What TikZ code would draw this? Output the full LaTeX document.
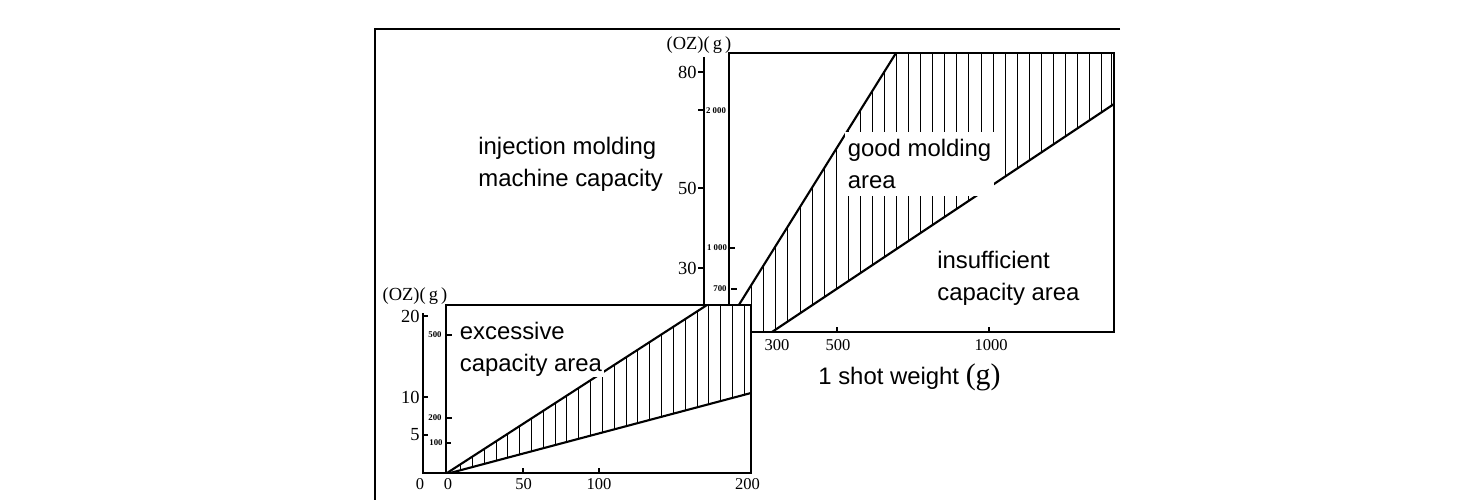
\documentclass[tikz,border=0pt]{standalone}
\usepackage{fontspec}
\setmainfont{Liberation Serif}
\setsansfont{Liberation Sans}
\usetikzlibrary{positioning}
\tikzset{
  % Line styles
  frameline/.style={line width=1pt},
  boxline/.style={line width=1.1pt},
  limitline/.style={line width=1.2pt},
  hatchline/.style={line width=0.55pt},
  tickline/.style={line width=0.6pt},
  % Text styles
  arealabel/.style={font=\sffamily\fontsize{13.6}{18.2}\selectfont, align=left, inner sep=0pt, anchor=west},
  unitlabel/.style={font=\fontsize{10.5}{12}\selectfont, inner sep=0pt},
  ozlabel/.style={font=\fontsize{10.5}{12}\selectfont, inner sep=0pt, anchor=east},
  numlabel/.style={font=\fontsize{9.4}{11}\selectfont, inner sep=0pt},
  glabel/.style={font=\bfseries\fontsize{5}{6}\selectfont, inner sep=0pt}
}

\begin{document}
\begin{tikzpicture}[x=0.02cm, y=-0.02cm]
  \useasboundingbox (0,0) rectangle (1473,500);

  % Frame
  \coordinate (frameTL) at (375,29);
  \draw[frameline] (1120,29) -- (frameTL) -- (375,500);

  % Large chart: hatching
  \begin{scope}
    \clip (722,332) -- (896,53) -- (1114,53) -- (1114,104) -- (772,332) -- cycle;
    \foreach \i in {0,...,29}
      \draw[hatchline] ({751.7+12.07*\i},53) -- ++(0,279);
    \draw[hatchline] (1111.5,53) -- ++(0,279);
  \end{scope}

  % Large chart: box, axis and limit lines
  \draw[boxline] (729,53) rectangle (1114,332);
  \draw[boxline] (704,57) -- (704,332);
  \draw[limitline] (722,332) -- (896,53);
  \draw[limitline] (772,332) -- (1114,104);

  % Large chart: ticks
  \draw[tickline] (698,72) -- (704,72);
  \draw[tickline] (698,188) -- (704,188);
  \draw[tickline] (698,268) -- (704,268);
  \draw[tickline] (698,110) -- (704,110);
  \draw[tickline] (729,248) -- (735,248);
  \draw[tickline] (731,289) -- (737,289);
  \draw[tickline] (837,332) -- (837,327);
  \draw[tickline] (989,332) -- (989,327);

  % Large chart: labels
  \node[unitlabel] (ozunitR) at (699,45) {(OZ)(\,g\,)};
  \node[ozlabel] (oz80) at (697,72) {80};
  \node[ozlabel] (oz50) at (697,188) {50};
  \node[ozlabel] (oz30) at (697,268) {30};
  \node[glabel] (g2000) at (716,111) {2 000};
  \node[glabel] (g1000) at (717,248) {1 000};
  \node[glabel] (g700) at (720,289) {700};
  \node[numlabel] (w300) at (777,345) {300};
  \node[numlabel] (w500) at (838,345) {500};
  \node[numlabel] (w1000) at (991,345) {1000};

  % Small chart: box, hatching
  \draw[boxline, fill=white] (446,305) rectangle (751,473);
  \begin{scope}
    \clip (447,473) -- (707,305) -- (751,305) -- (751,393) -- (450,473) -- cycle;
    \foreach \i in {0,...,24}
      \draw[hatchline] ({460.5+11.83*\i},305) -- ++(0,168);
  \end{scope}

  % Small chart: axis and limit lines
  \draw[boxline] (423,313) -- (423,473) -- (446,473);
  \draw[limitline] (447,473) -- (707,305);
  \draw[limitline] (450,473) -- (751,393);

  % Small chart: ticks
  \draw[tickline] (423,316) -- (428,316);
  \draw[tickline] (423,397) -- (428,397);
  \draw[tickline] (423,435) -- (428,435);
  \draw[tickline] (446,335) -- (452,335);
  \draw[tickline] (446,418) -- (452,418);
  \draw[tickline] (446,443) -- (451,443);
  \draw[tickline] (523,473) -- (523,468);
  \draw[tickline] (599,473) -- (599,468);

  % Small chart: labels
  \node[unitlabel] (ozunitL) at (415,296) {(OZ)(\,g\,)};
  \node[ozlabel] (oz20) at (420,316) {20};
  \node[ozlabel] (oz10) at (420,397) {10};
  \node[ozlabel] (oz5) at (420,435) {5};
  \node[glabel] (g500) at (435,335) {500};
  \node[glabel] (g200) at (435,418) {200};
  \node[glabel] (g100) at (436,443) {100};
  \node[numlabel] (zeroL) at (420,484) {0};
  \node[numlabel] (w0) at (448,484) {0};
  \node[numlabel] (w50) at (523.5,484) {50};
  \node[numlabel] (w100) at (599,484) {100};
  \node[numlabel] (w200) at (747.5,484) {200};

  % Area texts
  \node[arealabel] (machine) at (478,164.4) {injection molding\\machine capacity};
  \node[arealabel, fill=white, inner xsep=0.05cm, inner ysep=0.02cm] (excess) at (457,348.9) {excessive\\capacity area};
  \node[arealabel, fill=white, inner xsep=0.05cm, inner ysep=0.14cm] (good) at (845,163.9) {good molding\\area};
  \node[arealabel] (short) at (937,278) {insufficient\\capacity area};

  % Axis title
  \node[font=\sffamily\fontsize{13.6}{16}\selectfont, inner sep=0pt, anchor=base west] (shotweight) at (818,384) {1 shot weight {\rmfamily\fontsize{17}{17}\selectfont(g)}};
\end{tikzpicture}
\end{document}
